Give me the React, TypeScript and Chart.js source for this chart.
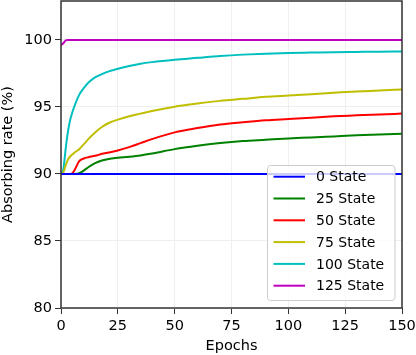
import React, { useEffect, useRef } from "react";
import { Chart, registerables } from "chart.js";

Chart.register(...registerables);

const epochs = [0, 1, 2, 3, 4, 5, 6, 8, 10, 12, 15, 18, 21, 25, 30, 35, 40, 50, 60, 70, 80, 90, 100, 110, 120, 130, 140, 150];
const state0 = [90, 90, 90, 90, 90, 90, 90, 90, 90, 90, 90, 90, 90, 90, 90, 90, 90, 90, 90, 90, 90, 90, 90, 90, 90, 90, 90, 90];
const state25 = [90, 90, 90, 90, 90, 90, 90, 90.05, 90.25, 90.5, 90.8, 91.0, 91.12, 91.2, 91.28, 91.38, 91.52, 91.85, 92.1, 92.3, 92.45, 92.55, 92.65, 92.72, 92.8, 92.88, 92.95, 93.0];
const state50 = [90, 90, 90, 90, 90, 90.05, 90.3, 90.95, 91.15, 91.25, 91.35, 91.5, 91.6, 91.75, 92.0, 92.3, 92.6, 93.1, 93.42, 93.68, 93.85, 94.0, 94.1, 94.2, 94.3, 94.37, 94.44, 94.5];
const state75 = [90, 90.1, 90.6, 91.05, 91.3, 91.45, 91.6, 91.85, 92.2, 92.6, 93.1, 93.5, 93.8, 94.05, 94.3, 94.5, 94.7, 95.02, 95.25, 95.45, 95.6, 95.75, 95.85, 95.95, 96.05, 96.15, 96.22, 96.3];
const state100 = [90, 90.3, 91.8, 93.1, 94.0, 94.6, 95.1, 95.9, 96.4, 96.8, 97.2, 97.45, 97.65, 97.85, 98.05, 98.22, 98.34, 98.52, 98.66, 98.8, 98.9, 98.97, 99.02, 99.05, 99.08, 99.1, 99.12, 99.13];
const state125 = [99.6, 99.75, 99.95, 100, 100, 100, 100, 100, 100, 100, 100, 100, 100, 100, 100, 100, 100, 100, 100, 100, 100, 100, 100, 100, 100, 100, 100, 100];

const seriesLabels = ["0 State", "25 State", "50 State", "75 State", "100 State", "125 State"];
const seriesValues = [state0, state25, state50, state75, state100, state125];
const seriesColors = ["#0000ff", "#008000", "#ff0000", "#bfbf00", "#00bfbf", "#bf00bf"];

const xTicks = [0, 25, 50, 75, 100, 125, 150];
const yTicks = [80, 85, 90, 95, 100];

const FONT = "'DejaVu Sans', sans-serif";

const framePlugin = {
  id: "frame",
  afterDatasetsDraw(chart: any) {
    const { ctx, chartArea } = chart;
    ctx.save();
    ctx.strokeStyle = "#333333";
    ctx.lineWidth = 1.5;
    ctx.strokeRect(chartArea.left, chartArea.top, chartArea.right - chartArea.left, chartArea.bottom - chartArea.top);
    ctx.restore();
  },
};

const legendPlugin = {
  id: "boxLegend",
  afterDatasetsDraw(chart: any) {
    const { ctx } = chart;
    const x0 = 267.5, y0 = 165.5, w = 127.5, h = 135;
    ctx.save();
    const r = 3;
    ctx.beginPath();
    ctx.moveTo(x0 + r, y0);
    ctx.lineTo(x0 + w - r, y0);
    ctx.arcTo(x0 + w, y0, x0 + w, y0 + r, r);
    ctx.lineTo(x0 + w, y0 + h - r);
    ctx.arcTo(x0 + w, y0 + h, x0 + w - r, y0 + h, r);
    ctx.lineTo(x0 + r, y0 + h);
    ctx.arcTo(x0, y0 + h, x0, y0 + h - r, r);
    ctx.lineTo(x0, y0 + r);
    ctx.arcTo(x0, y0, x0 + r, y0, r);
    ctx.closePath();
    ctx.fillStyle = "rgba(255,255,255,0.8)";
    ctx.fill();
    ctx.strokeStyle = "#cccccc";
    ctx.lineWidth = 1;
    ctx.stroke();
    ctx.font = `14px ${FONT}`;
    ctx.textBaseline = "middle";
    ctx.textAlign = "left";
    chart.data.datasets.forEach((ds: any, i: number) => {
      const cy = 176.7 + i * 21.8;
      ctx.strokeStyle = ds.borderColor;
      ctx.lineWidth = 2;
      ctx.beginPath();
      ctx.moveTo(273.5, cy);
      ctx.lineTo(305, cy);
      ctx.stroke();
      ctx.fillStyle = "#000000";
      ctx.fillText(ds.label, 316, cy + 1);
    });
    ctx.restore();
  },
};

export default function App() {
  const ref = useRef<HTMLCanvasElement | null>(null);
  useEffect(() => {
    if (!ref.current) return;
    const chart = new Chart(ref.current, {
      type: "line",
      data: {
        datasets: seriesLabels.map((label, i) => ({
          label,
          data: epochs.map((e, j) => ({ x: e, y: seriesValues[i][j] })),
          borderColor: seriesColors[i],
          backgroundColor: seriesColors[i],
          borderWidth: 2,
          pointRadius: 0,
          cubicInterpolationMode: "monotone",
          fill: false,
        })),
      },
      options: {
        responsive: false,
        animation: false,
        layout: { padding: { left: 0, right: 14, top: 1, bottom: 0 } },
        plugins: {
          legend: { display: false },
          tooltip: { enabled: false },
        },
        scales: {
          x: {
            type: "linear",
            min: 0,
            max: 150,
            afterBuildTicks: (scale: any) => {
              scale.ticks = xTicks.map((v) => ({ value: v }));
            },
            afterFit: (scale: any) => {
              scale.height = 47;
              scale.paddingLeft = 0;
              scale.paddingRight = 0;
            },
            grid: { color: "#efefef", tickColor: "#333333", tickLength: 6, lineWidth: 1 },
            border: { display: false },
            ticks: { color: "#000000", font: { family: FONT, size: 14.5 }, padding: 4, maxRotation: 0 },
            title: { display: true, text: "Epochs", color: "#000000", font: { family: FONT, size: 14.5 }, padding: { top: 0, bottom: 0 } },
          },
          y: {
            type: "linear",
            min: 80,
            max: 102.9,
            afterBuildTicks: (scale: any) => {
              scale.ticks = yTicks.map((v) => ({ value: v }));
            },
            afterFit: (scale: any) => {
              scale.width = 61;
              scale.paddingTop = 0;
              scale.paddingBottom = 0;
            },
            grid: { color: "#efefef", tickColor: "#333333", tickLength: 6, lineWidth: 1 },
            border: { display: false },
            ticks: { color: "#000000", font: { family: FONT, size: 14.5 }, padding: 3 },
            title: { display: true, text: "Absorbing rate (%)", color: "#000000", font: { family: FONT, size: 14.5 }, padding: { top: 0, bottom: 2 } },
          },
        },
      } as any,
      plugins: [framePlugin, legendPlugin],
    });
    return () => chart.destroy();
  }, []);
  return (
    <div style={{ position: "absolute", left: 0, top: 0, width: 416, height: 355, background: "#ffffff" }}>
      <canvas ref={ref} width={416} height={355} style={{ display: "block" }} />
    </div>
  );
}
